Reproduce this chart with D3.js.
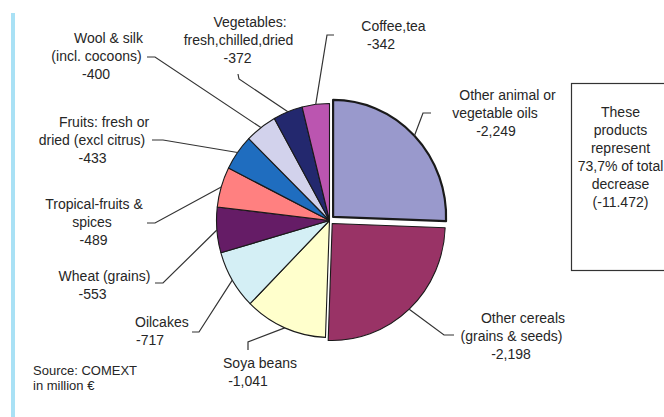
<!DOCTYPE html>
<html>
<head>
<meta charset="utf-8">
<script src="https://cdn.jsdelivr.net/npm/d3@7/dist/d3.min.js"></script>
<style>
  html, body { margin: 0; padding: 0; background: #ffffff; }
  svg { display: block; }
  text { font-family: "Liberation Sans", Arial, sans-serif; fill: #262626; }
</style>
</head>
<body>
<svg id="chart" width="664" height="417"></svg>
<script>
// ---------------- data ----------------
const categories = [
  "Other animal or vegetable oils",
  "Other cereals (grains & seeds)",
  "Soya beans",
  "Oilcakes",
  "Wheat (grains)",
  "Tropical-fruits & spices",
  "Fruits: fresh or dried (excl citrus)",
  "Wool & silk (incl. cocoons)",
  "Vegetables: fresh,chilled,dried",
  "Coffee,tea"
];
const values = [-2249, -2198, -1041, -717, -553, -489, -433, -400, -372, -342];
const labelLines = [
  ["Other animal or", "vegetable oils"],
  ["Other cereals", "(grains & seeds)"],
  ["Soya beans"],
  ["Oilcakes"],
  ["Wheat (grains)"],
  ["Tropical-fruits &", "spices"],
  ["Fruits: fresh or", "dried (excl citrus)"],
  ["Wool & silk", "(incl. cocoons)"],
  ["Vegetables:", "fresh,chilled,dried"],
  ["Coffee,tea"]
];
const colors = ["#9999cc", "#993366", "#ffffcc", "#d4eff5", "#651c66",
                "#ff8080", "#1f6dbf", "#d2d2ec", "#23286e", "#bb55b0"];
const boxLines = ["These", "products", "represent", "73,7% of total", "decrease", "(-11.472)"];
const sourceLines = ["Source: COMEXT", "in million \u20ac"];

// ---------------- layout (positions only) ----------------
const cx = 329.5, cy = 220.5, R = 113, yScale = 1.035;
const explode = [5, 4, 0, 0, 0, 0, 0, 0, 0, 0];
const labelLayout = [
  { xs: [507.5, 495, 496], anchor: "middle", y: 100, elbow: [423, 113], end: [431, 113] },
  { xs: [523, 511.5, 511], anchor: "middle", y: 323, elbow: [444, 335], end: [454, 335] },
  { xs: [260, 248], anchor: "middle", y: 368, elbow: [248, 342], end: [248, 350] },
  { xs: [135, 136], anchor: "start", y: 327, elbow: [199, 332], end: [192, 332] },
  { xs: [104.5, 92.5], anchor: "middle", y: 281, elbow: [163, 283], end: [155, 283] },
  { xs: [94, 92, 93.5], anchor: "middle", y: 209, elbow: [155, 223], end: [147, 223] },
  { xs: [104, 92, 92.5], anchor: "middle", y: 127, elbow: [163, 140], end: [152, 140] },
  { xs: [108.5, 96.5, 96], anchor: "middle", y: 43, elbow: [155, 57], end: [147, 57] },
  { xs: [250, 238.5, 237.5], anchor: "middle", y: 27, elbow: [239, 79], end: [238, 74] },
  { xs: [393.5, 381], anchor: "middle", y: 31, elbow: [327, 35], end: [334, 35] }
];
const lineH = 18;

// ---------------- drawing ----------------
const svg = d3.select("#chart");
const fmt = d3.formatLocale({ decimal: ".", thousands: ",", grouping: [3], currency: ["", ""], minus: "-" }).format(",");

svg.append("rect").attr("x", 11).attr("y", 13).attr("width", 4).attr("height", 404).attr("fill", "#a9e1f5");

const data = categories.map((c, i) => ({ name: c, value: values[i], i }));
const pie = d3.pie().sort(null).value(d => Math.abs(d.value)).startAngle(0).endAngle(2 * Math.PI);
const arcs = pie(data);
const arc = d3.arc().innerRadius(0).outerRadius(R);
const edgeArc = d3.arc().innerRadius(R).outerRadius(R);

function offset(d) {
  const a = (d.startAngle + d.endAngle) / 2;
  const e = explode[d.index];
  return [Math.sin(a) * e, -Math.cos(a) * e];
}

const g = svg.append("g").attr("transform", `translate(${cx},${cy}) scale(1,${yScale})`);

const order = arcs.slice().sort((a, b) => explode[a.index] - explode[b.index]);
g.selectAll("path.slice").data(order).join("path")
  .attr("class", "slice")
  .attr("transform", d => { const o = offset(d); return `translate(${o[0]},${o[1]})`; })
  .attr("d", arc)
  .attr("fill", d => colors[d.index])
  .attr("stroke", "#1a1a1a")
  .attr("stroke-width", d => d.index === 0 ? 2.2 : 1.1)
  .attr("stroke-linejoin", "round");

const leaders = svg.append("g");
arcs.forEach(d => {
  const L = labelLayout[d.index];
  const o = offset(d);
  const p = edgeArc.centroid(d);
  const start = [cx + p[0] + o[0], cy + (p[1] + o[1]) * yScale];
  leaders.append("path")
    .attr("d", d3.line()([start, L.elbow, L.end]))
    .attr("fill", "none")
    .attr("stroke", "#333333")
    .attr("stroke-width", 1.2);
});

const labels = svg.append("g").attr("font-size", 14);
arcs.forEach(d => {
  const L = labelLayout[d.index];
  const lines = labelLines[d.index].concat([fmt(d.data.value)]);
  const t = labels.append("text").attr("text-anchor", L.anchor);
  lines.forEach((ln, k) => {
    t.append("tspan").attr("x", L.xs[k]).attr("y", L.y + k * lineH).text(ln);
  });
});

svg.append("rect").attr("x", 571.5).attr("y", 83.5).attr("width", 110).attr("height", 187)
  .attr("fill", "#ffffff").attr("stroke", "#333333").attr("stroke-width", 1.2);
const bt = svg.append("text").attr("text-anchor", "middle").attr("font-size", 14);
boxLines.forEach((ln, k) => bt.append("tspan").attr("x", 620.5).attr("y", 117 + k * lineH).text(ln));

const st = svg.append("text").attr("font-size", 13);
sourceLines.forEach((ln, k) => st.append("tspan").attr("x", 33).attr("y", 375 + k * 15).text(ln));
</script>
</body>
</html>
